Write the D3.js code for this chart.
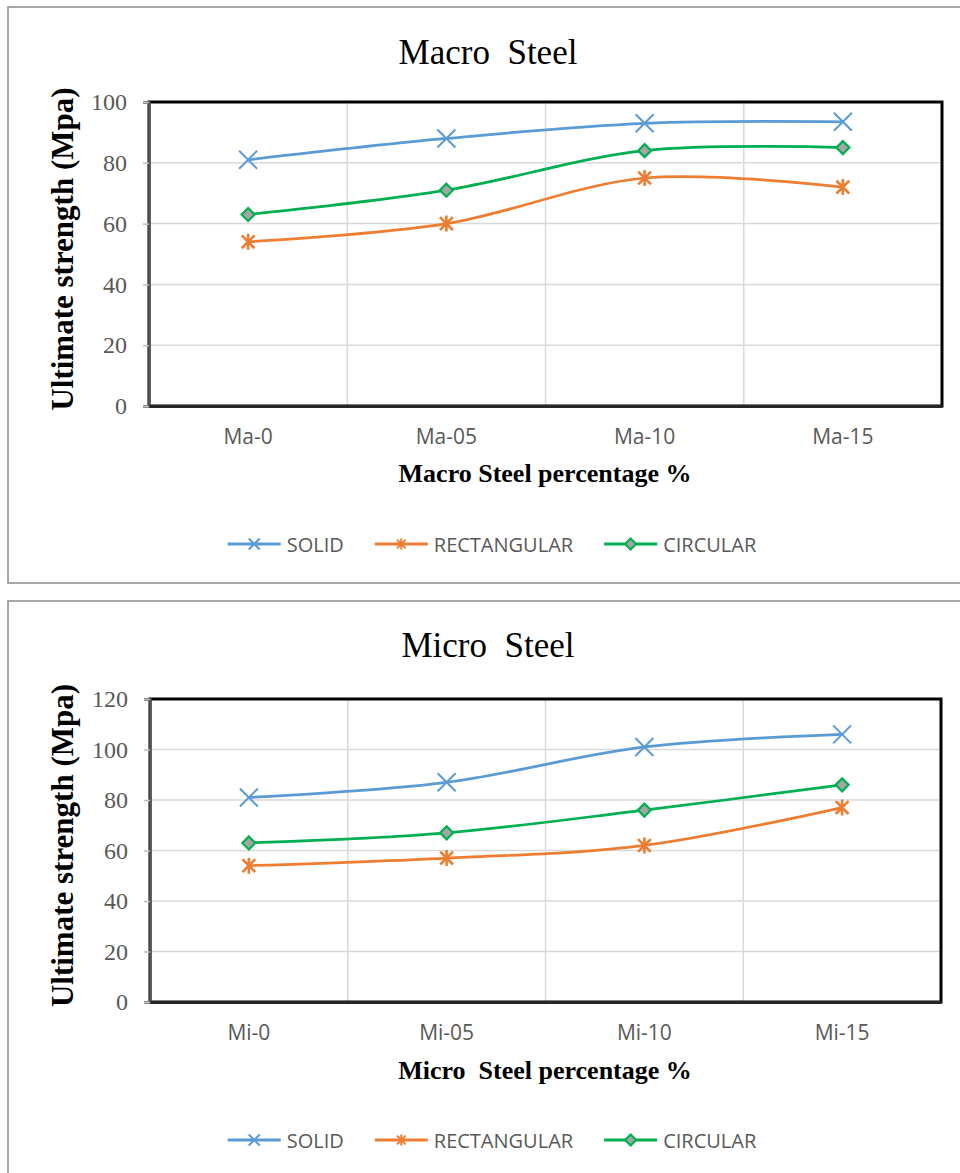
<!DOCTYPE html>
<html>
<head>
<meta charset="utf-8">
<script src="https://cdn.jsdelivr.net/npm/d3@7"></script>
<style>
  body { margin: 0; background: #fff; }
  svg { display: block; }
</style>
</head>
<body>
<svg id="chart" width="960" height="1173"></svg>
<script>
// ---- data ----
const seriesNames = ["SOLID", "RECTANGULAR", "CIRCULAR"];

const macroCategories = ["Ma-0", "Ma-05", "Ma-10", "Ma-15"];
const macroSolid = [81, 88, 93, 93.5];
const macroRectangular = [54, 60, 75, 72];
const macroCircular = [63, 71, 84, 85];
const macroTicks = [0, 20, 40, 60, 80, 100];

const microCategories = ["Mi-0", "Mi-05", "Mi-10", "Mi-15"];
const microSolid = [81, 87, 101, 106];
const microRectangular = [54, 57, 62, 77];
const microCircular = [63, 67, 76, 86];
const microTicks = [0, 20, 40, 60, 80, 100, 120];

// ---- styling ----
const serif = "'Liberation Serif', 'Times New Roman', serif";
const sans = "'Open Sans', 'Noto Sans', sans-serif";
const seriesStyle = {
  SOLID: { color: "#5B9BD5", marker: "x" },
  RECTANGULAR: { color: "#ED7D31", marker: "star" },
  CIRCULAR: { color: "#00B050", marker: "diamond" }
};

const panels = [
  {
    title: "Macro  Steel",
    xTitle: "Macro Steel percentage %",
    categories: macroCategories,
    values: [macroSolid, macroRectangular, macroCircular],
    ticks: macroTicks,
    frame: { top: 7, bottom: 583 },
    plot: { x0: 149, x1: 942, y0: 102, y1: 406 },
    titleY: 64, tickLabelY: 444, xTitleY: 482, legendY: 544
  },
  {
    title: "Micro  Steel",
    xTitle: "Micro  Steel percentage %",
    categories: microCategories,
    values: [microSolid, microRectangular, microCircular],
    ticks: microTicks,
    frame: { top: 601, bottom: 1185 },
    plot: { x0: 150, x1: 941, y0: 699, y1: 1002 },
    titleY: 657, tickLabelY: 1040, xTitleY: 1079, legendY: 1140
  }
];

const svg = d3.select("#chart");

function markerPath(type, s) {
  if (type === "x") {
    return `M${-s},${-s}L${s},${s}M${-s},${s}L${s},${-s}`;
  }
  if (type === "star") {
    const d = s * 0.8;
    return `M${-d},${-d}L${d},${d}M${-d},${d}L${d},${-d}M0,${-s}L0,${s}`;
  }
  return `M0,${-s}L${s},0L0,${s}L${-s},0Z`;
}

function drawMarker(g, type, color, s, w) {
  const p = g.append("path").attr("d", markerPath(type, s));
  if (type === "diamond") {
    p.attr("fill", "#A5A5A5").attr("stroke", color).attr("stroke-width", 2.2)
     .attr("stroke-linejoin", "miter");
  } else {
    p.attr("fill", "none").attr("stroke", color).attr("stroke-width", w);
  }
}

const markerSize = { x: 9, star: 8, diamond: 6.5 };
const markerWidth = { x: 2, star: 2.6, diamond: 2.2 };

panels.forEach(cfg => {
  const { plot } = cfg;
  const g = svg.append("g");

  // outer frame
  g.append("rect")
    .attr("x", 8).attr("y", cfg.frame.top)
    .attr("width", 970).attr("height", cfg.frame.bottom - cfg.frame.top)
    .attr("fill", "#fff").attr("stroke", "#8c8c8c").attr("stroke-width", 1.5);

  const yMax = cfg.ticks[cfg.ticks.length - 1];
  const y = d3.scaleLinear().domain([0, yMax]).range([plot.y1, plot.y0]);
  const x = d3.scaleBand().domain(cfg.categories).range([plot.x0, plot.x1]);
  const cx = c => x(c) + x.bandwidth() / 2;

  // gridlines
  g.append("g").selectAll("line.h")
    .data(cfg.ticks.filter(t => t > 0 && t < yMax))
    .join("line")
    .attr("x1", plot.x0).attr("x2", plot.x1)
    .attr("y1", d => y(d)).attr("y2", d => y(d))
    .attr("stroke", "#D9D9D9").attr("stroke-width", 1.5);
  g.append("g").selectAll("line.v")
    .data(cfg.categories.slice(1))
    .join("line")
    .attr("x1", d => x(d)).attr("x2", d => x(d))
    .attr("y1", plot.y0).attr("y2", plot.y1)
    .attr("stroke", "#D9D9D9").attr("stroke-width", 1.5);

  // plot border
  g.append("rect")
    .attr("x", plot.x0).attr("y", plot.y0)
    .attr("width", plot.x1 - plot.x0).attr("height", plot.y1 - plot.y0)
    .attr("fill", "none").attr("stroke", "#000").attr("stroke-width", 3);

  // y axis
  const yAxis = g.append("g")
    .attr("transform", `translate(${plot.x0},0)`)
    .call(d3.axisLeft(y).tickValues(cfg.ticks).tickSize(6).tickPadding(16));
  yAxis.select(".domain").attr("stroke", "#595959").attr("stroke-width", 2.5);
  yAxis.selectAll(".tick line").attr("stroke", "#BFBFBF").attr("stroke-width", 1.5);
  yAxis.selectAll(".tick text")
    .attr("font-family", serif).attr("font-size", 24).attr("fill", "#595959");

  // x axis
  const xAxis = g.append("g")
    .attr("transform", `translate(0,${plot.y1})`)
    .call(d3.axisBottom(x).tickSize(0).tickPadding(cfg.tickLabelY - plot.y1 - 15));
  xAxis.select(".domain").attr("stroke", "#262626").attr("stroke-width", 3);
  xAxis.selectAll(".tick text")
    .attr("font-family", sans).attr("font-size", 21).attr("fill", "#595959");

  // titles
  g.append("text")
    .attr("x", 488).attr("y", cfg.titleY)
    .attr("text-anchor", "middle")
    .attr("font-family", serif).attr("font-size", 35).attr("fill", "#000")
    .style("white-space", "pre")
    .text(cfg.title);

  g.append("text")
    .attr("x", 545).attr("y", cfg.xTitleY)
    .attr("text-anchor", "middle")
    .attr("font-family", serif).attr("font-size", 26).attr("font-weight", "bold")
    .attr("fill", "#000").style("white-space", "pre")
    .text(cfg.xTitle);

  g.append("text")
    .attr("transform", `translate(62,${(plot.y0 + plot.y1) / 2 - 5}) rotate(-90)`)
    .attr("text-anchor", "middle").attr("dominant-baseline", "central")
    .attr("font-family", serif).attr("font-size", 31).attr("font-weight", "bold")
    .attr("fill", "#000")
    .text("Ultimate strength (Mpa)");

  // series
  const line = d3.line()
    .x((d, i) => cx(cfg.categories[i]))
    .y(d => y(d))
    .curve(d3.curveCardinal.tension(0));

  seriesNames.forEach((name, si) => {
    const st = seriesStyle[name];
    const vals = cfg.values[si];
    g.append("path")
      .datum(vals)
      .attr("d", line)
      .attr("fill", "none").attr("stroke", st.color)
      .attr("stroke-width", 2.75).attr("stroke-linecap", "round");
    vals.forEach((v, i) => {
      const mg = g.append("g").attr("transform", `translate(${cx(cfg.categories[i])},${y(v)})`);
      drawMarker(mg, st.marker, st.color, markerSize[st.marker], markerWidth[st.marker]);
    });
  });

  // legend
  const lineLen = 53, gapText = 6, gapItem = 31;
  const leg = g.append("g");
  const items = seriesNames.map(name => {
    const ig = leg.append("g");
    const t = ig.append("text")
      .attr("x", lineLen + gapText).attr("y", 0)
      .attr("dominant-baseline", "central")
      .attr("font-family", sans).attr("font-size", 20).attr("fill", "#595959")
      .text(name);
    const st = seriesStyle[name];
    ig.append("line")
      .attr("x1", 0).attr("x2", lineLen).attr("y1", 0).attr("y2", 0)
      .attr("stroke", st.color).attr("stroke-width", 3);
    const mg = ig.append("g").attr("transform", `translate(${lineLen / 2},0)`);
    drawMarker(mg, st.marker, st.color, st.marker === "x" ? 5.5 : 5.5, 2);
    return { g: ig, w: lineLen + gapText + t.node().getComputedTextLength() };
  });
  const total = d3.sum(items, d => d.w) + gapItem * (items.length - 1);
  let xPos = 492 - total / 2;
  items.forEach(it => {
    it.g.attr("transform", `translate(${xPos},${cfg.legendY})`);
    xPos += it.w + gapItem;
  });
});
</script>
</body>
</html>
